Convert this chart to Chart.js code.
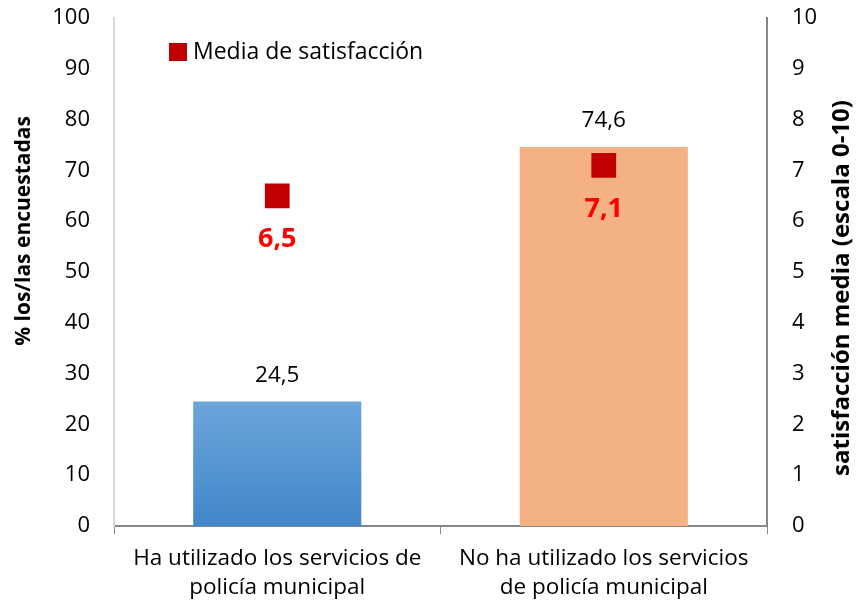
<!DOCTYPE html>
<html>
<head>
<meta charset="utf-8">
<script src="https://cdn.jsdelivr.net/npm/chart.js@4.4.0/dist/chart.umd.min.js"></script>
<style>
  html, body { margin: 0; padding: 0; background: #fff; }
  #wrap { width: 857px; height: 605px; }
</style>
</head>
<body>
<div id="wrap"><canvas id="policeChart" width="857" height="605"></canvas></div>
<script>
// data
const categories = [
    ['Ha utilizado los servicios de', 'policía municipal'],
    ['No ha utilizado los servicios', 'de policía municipal']
];
const percentValues = [24.5, 74.6];
const satisfactionValues = [6.5, 7.1];
const legendLabel = 'Media de satisfacción';
const leftTitle = '% los/las encuestadas';
const rightTitle = 'satisfacción media (escala 0-10)';

const FONT = "'Open Sans', sans-serif";

var fmt = function(v) { return v.toFixed(1).replace('.', ','); };

// value labels, legend and axis titles
const labelPlugin = {
    id: 'valueLabels',
    afterDatasetsDraw(chart) {
        const ctx = chart.ctx;
        ctx.save();
        ctx.textAlign = 'center';
        ctx.textBaseline = 'middle';

        let bars = chart.getDatasetMeta(0);
        bars.data.forEach((bar, i) => {
            ctx.fillStyle = '#000';
            ctx.font = '22.5px ' + FONT;
            ctx.fillText(fmt(percentValues[i]), bar.x, bar.y - 26);
        });

        let pts = chart.getDatasetMeta(1);
        pts.data.forEach((pt, i) => {
            ctx.fillStyle = '#FF0000';
            ctx.font = 'bold 27px ' + FONT;
            ctx.fillText(fmt(satisfactionValues[i]), pt.x, pt.y + 44);
        });

        // legend sits inside the plot
        ctx.fillStyle = '#C00000';
        ctx.fillRect(169, 43, 18, 18);
        ctx.fillStyle = '#000';
        ctx.textAlign = 'left';
        ctx.font = '23px ' + FONT;
        ctx.fillText(legendLabel, 193, 52);

        // axis titles, both read bottom to top
        ctx.textAlign = 'center';
        ctx.font = 'bold 21px ' + FONT;
        ctx.translate(24, 231);
        ctx.rotate(-Math.PI / 2);
        ctx.fillText(leftTitle, 0, 0);
        ctx.setTransform(1, 0, 0, 1, 0, 0);
        ctx.font = 'bold 24px ' + FONT;
        ctx.translate(842, 288);
        ctx.rotate(-Math.PI / 2);
        ctx.fillText(rightTitle, 0, 0);
        ctx.restore();
    }
};

var ctx = document.getElementById('policeChart').getContext('2d');

var barColor = function(context) {
    const area = context.chart.chartArea;
    if (!area) return '#5B9BD5';
    if (context.dataIndex === 0) {
        let g = context.chart.ctx.createLinearGradient(0, area.bottom, 0, area.top);
        g.addColorStop(0, '#4187C9');
        g.addColorStop(0.25, '#6EA6DC');
        g.addColorStop(1, '#9CC3E8');
        return g;
    }
    return '#F4B183';
};

var policeChart = new Chart(ctx, {
    type: 'bar',
    data: {
        labels: categories,
        datasets: [{
            label: leftTitle,
            data: percentValues,
            backgroundColor: barColor,
            borderWidth: 0,
            categoryPercentage: 1,
            barPercentage: 0.515,
            yAxisID: 'y',
            order: 2
        }, {
            type: 'line',
            label: legendLabel,
            data: satisfactionValues,
            showLine: false,
            pointStyle: 'rect',
            pointRadius: 17.5,
            pointHoverRadius: 17.5,
            backgroundColor: '#C00000',
            borderColor: '#C00000',
            borderWidth: 0,
            yAxisID: 'y2',
            order: 1
        }]
    },
    options: {
        responsive: false,
        animation: false,
        layout: { padding: { top: 18, left: 0, right: 0, bottom: 0 } },
        plugins: {
            legend: { display: false },
            tooltip: { enabled: false }
        },
        scales: {
            x: {
                grid: {
                    display: true,
                    drawOnChartArea: false,
                    drawTicks: true,
                    tickLength: 8,
                    color: '#868686',
                    offset: true
                },
                border: { color: '#868686', width: 2 },
                ticks: {
                    color: '#000',
                    font: { family: FONT, size: 22.5, lineHeight: 1.25 },
                    maxRotation: 0,
                    autoSkip: false,
                    padding: 11
                },
                afterFit: function(scale) { scale.height = 79; }
            },
            y: {
                position: 'left',
                min: 0,
                max: 100,
                grid: { display: false, drawTicks: false },
                border: { color: '#D9D9D9', width: 2 },
                ticks: {
                    stepSize: 10,
                    color: '#000',
                    font: { family: FONT, size: 22 },
                    padding: 24
                },
                afterFit: function(scale) {
                    scale.width = 114;
                    scale.paddingTop = 0;
                    scale.paddingBottom = 0;
                }
            },
            y2: {
                position: 'right',
                min: 0,
                max: 10,
                grid: { display: false, drawTicks: false },
                border: { color: '#868686', width: 2 },
                ticks: {
                    stepSize: 1,
                    color: '#000',
                    font: { family: FONT, size: 22 },
                    padding: 25
                },
                afterFit: function(scale) {
                    scale.width = 90;
                    scale.paddingTop = 0;
                    scale.paddingBottom = 0;
                }
            }
        }
    },
    plugins: [labelPlugin]
});
</script>
</body>
</html>
